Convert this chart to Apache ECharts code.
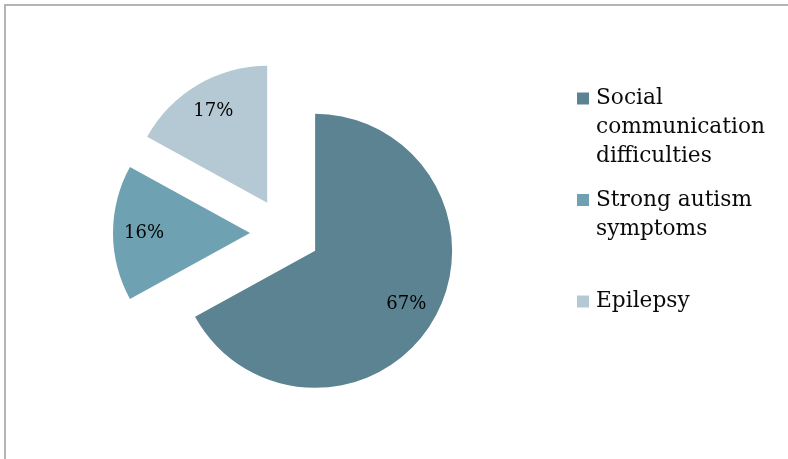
<!DOCTYPE html>
<html>
<head>
<meta charset="utf-8">
<script src="https://cdn.jsdelivr.net/npm/echarts@6/dist/echarts.min.js"></script>
<style>
  html, body { margin: 0; padding: 0; background: #ffffff; }
  #frame { position: absolute; left: 4px; top: 4px; width: 784px; height: 455px;
           border-top: 2px solid #b4b4b4; border-left: 2px solid #b4b4b4; }
  #chart { position: absolute; left: 0; top: 0; width: 788px; height: 459px; }
</style>
</head>
<body>
<div id="frame"></div>
<div id="chart"></div>
<script>
// ---- data ----
const categories = ['Social communication difficulties', 'Strong autism symptoms', 'Epilepsy'];
const legendLabels = ['Social\ncommunication\ndifficulties', 'Strong autism\nsymptoms', 'Epilepsy'];
const values = [67, 16, 17];
const colors = ['#5b8391', '#6ea1b1', '#b4c9d3'];

// legend icons: square aligned with first text line inside a tall icon box
const iconBoxH = 87;
const iconPaths = [
  'path://M0,0 M12,87 M0,8.5 h12 v12 h-12 z',
  'path://M0,0 M12,87 M0,23 h12 v12 h-12 z',
  'path://M0,0 M12,87 M0,37.5 h12 v12 h-12 z'
];

const chart = echarts.init(document.getElementById('chart'), null, { renderer: 'canvas' });

const pieData = categories.map((name, i) => ({
  name: name, value: values[i], selected: true,
  itemStyle: { color: colors[i] }
}));
const labelData = categories.map((name, i) => ({
  name: name, value: values[i], selected: true,
  itemStyle: { color: 'rgba(0,0,0,0)' }
}));

chart.setOption({
  backgroundColor: 'transparent',
  animation: false,
  legend: {
    orient: 'vertical',
    left: 577,
    top: 84,
    padding: 0,
    itemGap: 0,
    itemWidth: 12,
    itemHeight: iconBoxH,
    selectedMode: false,
    symbolKeepAspect: false,
    data: categories.map((name, i) => ({
      name: name, icon: iconPaths[i], itemStyle: { color: colors[i], borderWidth: 0 }
    })),
    formatter: function (name) { return legendLabels[categories.indexOf(name)]; },
    textStyle: { fontFamily: 'DejaVu Serif', fontSize: 21.7, lineHeight: 29, color: '#0a0a0a',
                 padding: [0, 0, 0, 2] }
  },
  series: [
    {
      type: 'pie',
      center: [285, 233],
      radius: [0, 137],
      startAngle: 90,
      clockwise: true,
      selectedMode: 'multiple',
      selectedOffset: 35,
      silent: true,
      emphasis: { disabled: true },
      label: { show: false },
      labelLine: { show: false },
      data: pieData
    },
    {
      type: 'pie',
      center: [285, 233],
      radius: [0, 206],
      startAngle: 90,
      clockwise: true,
      selectedMode: 'multiple',
      selectedOffset: 35,
      silent: true,
      emphasis: { disabled: true },
      labelLine: { show: false },
      label: {
        show: true, position: 'inside', formatter: '{c}%',
        fontFamily: 'DejaVu Serif', fontSize: 18, color: '#000000',
        textBorderWidth: 0
      },
      data: labelData
    }
  ]
});
</script>
</body>
</html>
